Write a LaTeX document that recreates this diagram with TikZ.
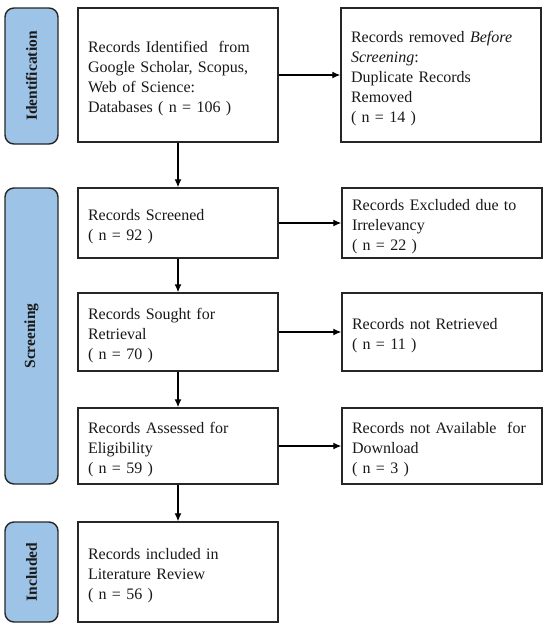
\documentclass[tikz,border=0pt]{standalone}
\usepackage{fontspec}
\setmainfont{Liberation Serif}
\usetikzlibrary{arrows.meta}
\definecolor{sideblue}{HTML}{9DC3E6}
\definecolor{edge}{HTML}{262626}
\tikzset{
  box/.style={draw=edge, line width=1.4pt, fill=white, text width=180pt, inner xsep=10pt, inner ysep=0pt,
    align=left, font=\fontsize{16}{20}\selectfont, text=black!90,
    execute at begin node={\rule{0pt}{18pt}}},
  side/.style={draw=edge, line width=1.4pt, fill=sideblue, rounded corners=9pt, rotate=90, inner sep=0pt,
    font=\fontsize{15.5}{18}\selectfont\bfseries, text=black!90},
  flow/.style={draw=black, line width=1.3pt, -{Latex[length=8pt,width=7pt]}}
}
\begin{document}
\begin{tikzpicture}[x=1pt, y=-1pt]
\useasboundingbox (0,0) rectangle (550,630);
% side labels
\node[side, minimum width=136pt, minimum height=53pt] (sid) at (31.5,76) {Identification};
\node[side, minimum width=296pt, minimum height=53pt] (sscr) at (31.5,336) {Screening};
\node[side, minimum width=100pt, minimum height=53pt] (sinc) at (31.5,572) {Included};
% left column
\node[box, minimum width=200pt, minimum height=134pt] (l1) at (178,75)
  {Records Identified\ \ from\\Google Scholar, Scopus,\\Web of Science:\\Databases ( n = 106 )};
\node[box, minimum width=200pt, minimum height=70pt] (l2) at (178,223)
  {Records Screened\\( n = 92 )};
\node[box, minimum width=200pt, minimum height=78pt] (l3) at (178,332)
  {Records Sought for\\Retrieval\\( n = 70 )};
\node[box, minimum width=200pt, minimum height=76pt] (l4) at (178,446)
  {Records Assessed for\\Eligibility\\( n = 59 )};
\node[box, minimum width=200pt, minimum height=100pt] (l5) at (178,572)
  {Records included in\\Literature Review\\( n = 56 )};
% right column
\node[box, minimum width=200pt, minimum height=134pt] (r1) at (441,75)
  {Records removed \textit{Before}\\\textit{Screening}:\\Duplicate Records\\Removed\\( n = 14 )};
\node[box, minimum width=200pt, minimum height=70pt] (r2) at (442,223)
  {Records Excluded due to\\Irrelevancy\\( n = 22 )};
\node[box, minimum width=200pt, minimum height=78pt] (r3) at (442,332)
  {Records not Retrieved\\( n = 11 )};
\node[box, minimum width=200pt, minimum height=76pt] (r4) at (442,446)
  {Records not Available\ \ for\\Download\\( n = 3 )};
% arrows
\draw[flow] (l1) -- (l2);
\draw[flow] (l2) -- (l3);
\draw[flow] (l3) -- (l4);
\draw[flow] (l4) -- (l5);
\draw[flow] (l1) -- (r1);
\draw[flow] (l2) -- (r2);
\draw[flow] (l3) -- (r3);
\draw[flow] (l4) -- (r4);
\end{tikzpicture}
\end{document}
